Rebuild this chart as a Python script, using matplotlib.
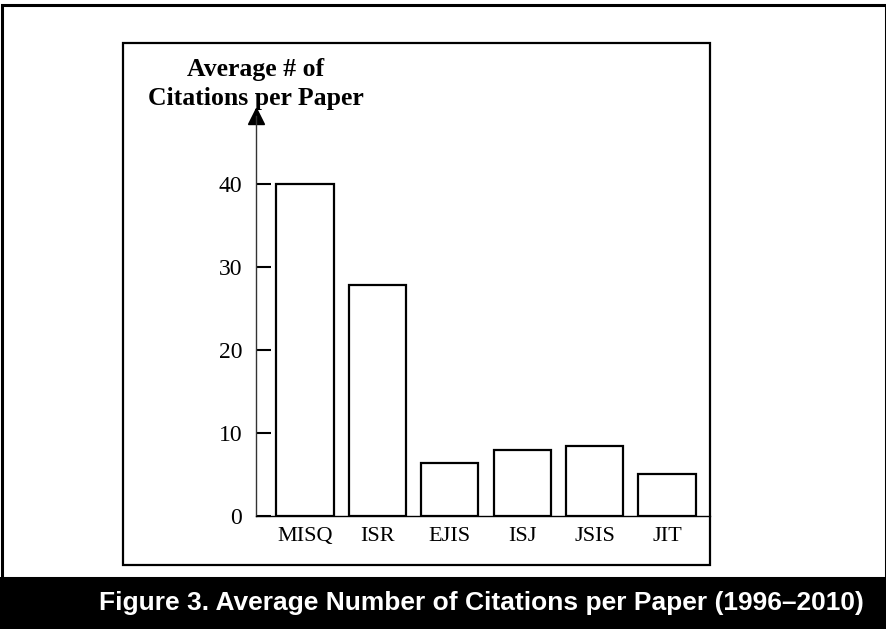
import matplotlib.pyplot as plt
from matplotlib.patches import Rectangle

# data
journals = ["MISQ", "ISR", "EJIS", "ISJ", "JSIS", "JIT"]
avg_citations = [40, 27.8, 6.4, 8.0, 8.4, 5.1]
y_ticks = [0, 10, 20, 30, 40]
y_title = "Average # of\nCitations per Paper"
caption = "Figure 3. Average Number of Citations per Paper (1996\u20132010)"

W, H = 887, 629


def fx(px):
    return px / W


def fy(py):
    return 1 - py / H


fig = plt.figure(figsize=(W / 100, H / 100), dpi=100)
fig.patch.set_facecolor("white")

# outer frame and caption band
fig.patches.append(Rectangle((fx(2), fy(578)), fx(884), fy(5) - fy(578),
                             transform=fig.transFigure, fill=False,
                             edgecolor="black", linewidth=2.2))
fig.patches.append(Rectangle((0, 0), 1, fy(577), transform=fig.transFigure,
                             facecolor="black", edgecolor="none"))
# inner box
fig.patches.append(Rectangle((fx(123), fy(565)), fx(710 - 123), fy(43) - fy(565),
                             transform=fig.transFigure, fill=False,
                             edgecolor="black", linewidth=1.6))

fig.text(fx(481), fy(603), caption, color="white", ha="center", va="center",
         fontsize=19, fontweight="bold", family="Liberation Sans")

# axes: y=0 at 516px, 40 at 184px, arrow tip at 116px
ax_left, ax_right, ax_top, ax_bot = 256, 710, 116, 516
ax = fig.add_axes([fx(ax_left), fy(ax_bot), fx(ax_right - ax_left),
                   fy(ax_top) - fy(ax_bot)])
ax.set_facecolor("none")

x = range(len(journals))
ax.bar(x, avg_citations, width=0.79, facecolor="white", edgecolor="black",
       linewidth=1.6, zorder=3)

ax.set_ylim(0, 48.2)
ax.set_xlim(-0.677, 5.594)
ax.set_yticks(y_ticks)
ax.set_yticklabels([str(t) for t in y_ticks], family="Liberation Serif",
                   fontsize=17)
ax.set_xticks(list(x))
ax.set_xticklabels(journals, family="Liberation Serif", fontsize=16)
ax.tick_params(axis="y", direction="in", length=11, width=1.5, pad=10)
ax.tick_params(axis="x", length=0, pad=8)

for side in ["top", "right"]:
    ax.spines[side].set_visible(False)
ax.spines["left"].set_linewidth(1.0)
ax.spines["left"].set_color("#333333")
ax.spines["bottom"].set_linewidth(1.0)

# arrow head on the y axis
ax.plot([0], [1], marker="^", markersize=11, color="black",
        transform=ax.transAxes, clip_on=False)

fig.text(fx(256), fy(84), y_title, ha="center", va="center", fontsize=18.5,
         fontweight="bold", family="Liberation Serif", linespacing=1.28)

fig.savefig("out.png", dpi=100)
